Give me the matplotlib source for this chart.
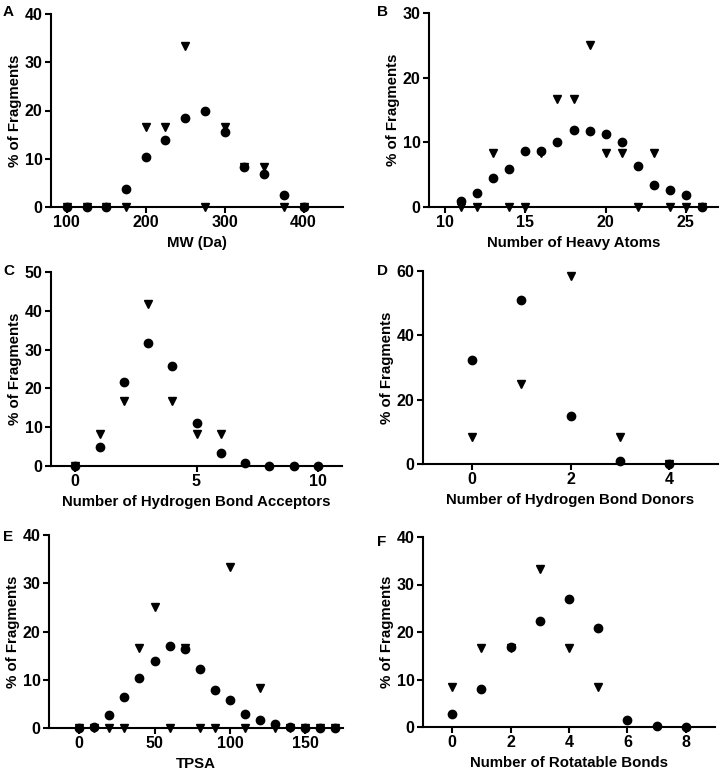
import numpy as np
import matplotlib
matplotlib.use("Agg")
import matplotlib.pyplot as plt

plt.rcParams['font.family'] = ['Liberation Sans', 'DejaVu Sans']
plt.rcParams['font.weight'] = 'bold'

nan = np.nan

# A - molecular weight
mw_x = [100, 125, 150, 175, 200, 225, 250, 275, 300, 325, 350, 375, 400]
mw_circ = [0, 0, 0, 3.7, 10.4, 13.8, 18.5, 19.9, 15.6, 8.2, 6.9, 2.4, 0]
mw_tri = [0, 0, 0, 0, 16.67, 16.67, 33.33, 0, 16.67, 8.33, 8.33, 0, 0]

# B - heavy atoms
ha_x = list(range(11, 27))
ha_circ = [0.9, 2.2, 4.5, 5.95, 8.6, 8.6, 10.1, 11.85, 11.8, 11.3, 10.0, 6.4, 3.4, 2.6, 1.8, 0]
ha_tri = [0, 0, 8.33, 0, 0, 8.33, 16.67, 16.67, 25, 8.33, 8.33, 0, 8.33, 0, 0, 0]

# C - H bond acceptors
hba_x = list(range(0, 11))
hba_circ = [0, 5.0, 21.6, 31.6, 25.8, 11.2, 3.4, 0.9, 0, 0, 0]
hba_tri = [0, 8.33, 16.67, 41.67, 16.67, 8.33, 8.33, nan, nan, nan, nan]

# D - H bond donors
hbd_x = [0, 1, 2, 3, 4]
hbd_circ = [32.4, 51.0, 15.0, 0.95, 0]
hbd_tri = [8.33, 25, 58.33, 8.33, 0]

# E - TPSA
tpsa_x = list(range(0, 180, 10))
tpsa_circ = [0, 0.3, 2.6, 6.5, 10.4, 13.9, 17.0, 16.4, 12.3, 7.8, 5.9, 2.9, 1.6, 0.9, 0.2, 0.1, 0, 0]
tpsa_tri = [0, 0, 0, 0, 16.67, 25, 0, 16.67, 0, 0, 33.33, 0, 8.33, 0, 0, 0, 0, 0]

# F - rotatable bonds
rb_x = list(range(0, 9))
rb_circ = [2.8, 7.9, 16.9, 22.3, 26.9, 20.9, 1.55, 0.2, 0.05]
rb_tri = [8.33, 16.67, 16.67, 33.33, 16.67, 8.33, nan, nan, nan]

W, H = 720, 776
fig = plt.figure(figsize=(W / 100, H / 100), dpi=100)


def panel(letter, lpos, box, x, circ, tri, xlim, xticks, ylim, yticks, xlabel):
    """box = (left, top, right, bottom) in pixels, lpos = letter (x, y) in pixels"""
    l, t, r, b = box
    ax = fig.add_axes([l / W, 1 - b / H, (r - l) / W, (b - t) / H])
    ax.plot(x, tri, linestyle='None', marker='v', color='black', markersize=6, clip_on=False, zorder=3)
    ax.plot(x, circ, linestyle='None', marker='o', color='black', markersize=6, clip_on=False, zorder=4)
    ax.set_xlim(*xlim)
    ax.set_ylim(*ylim)
    ax.set_xticks(xticks)
    ax.set_yticks(yticks)
    for s in ['top', 'right']:
        ax.spines[s].set_visible(False)
    for s in ['left', 'bottom']:
        ax.spines[s].set_linewidth(1.5)
    ax.tick_params(width=1.5, length=4, labelsize=11.5, pad=2)
    for lab in ax.get_xticklabels() + ax.get_yticklabels():
        lab.set_fontweight('bold')
    ax.set_xlabel(xlabel, fontsize=10.8, fontweight='bold', labelpad=4)
    ax.set_ylabel('% of Fragments', fontsize=10.8, fontweight='bold', labelpad=2)
    fig.text(lpos[0] / W, 1 - lpos[1] / H, letter, fontsize=11, fontweight='bold', va='top', ha='left')
    return ax


panel('A', (3, 5), (51, 14, 343, 207), mw_x, mw_circ, mw_tri, (80, 450), [100, 200, 300, 400],
      (0, 40), [0, 10, 20, 30, 40], 'MW (Da)')
panel('B', (377, 5), (429, 13, 718, 207), ha_x, ha_circ, ha_tri, (9, 27), [10, 15, 20, 25],
      (0, 30), [0, 10, 20, 30], 'Number of Heavy Atoms')
panel('C', (3, 264), (51, 272, 342, 466), hba_x, hba_circ, hba_tri, (-1, 11), [0, 5, 10],
      (0, 50), [0, 10, 20, 30, 40, 50], 'Number of Hydrogen Bond Acceptors')
panel('D', (377, 264), (423, 271, 718, 464), hbd_x, hbd_circ, hbd_tri, (-1, 5), [0, 2, 4],
      (0, 60), [0, 20, 40, 60], 'Number of Hydrogen Bond Donors')
panel('E', (3, 530), (49, 535, 343, 728), tpsa_x, tpsa_circ, tpsa_tri, (-20, 175), [0, 50, 100, 150],
      (0, 40), [0, 10, 20, 30, 40], 'TPSA')
panel('F', (377, 535), (423, 537, 715, 727), rb_x, rb_circ, rb_tri, (-1, 9), [0, 2, 4, 6, 8],
      (0, 40), [0, 10, 20, 30, 40], 'Number of Rotatable Bonds')

plt.savefig("out.png", dpi=100)
